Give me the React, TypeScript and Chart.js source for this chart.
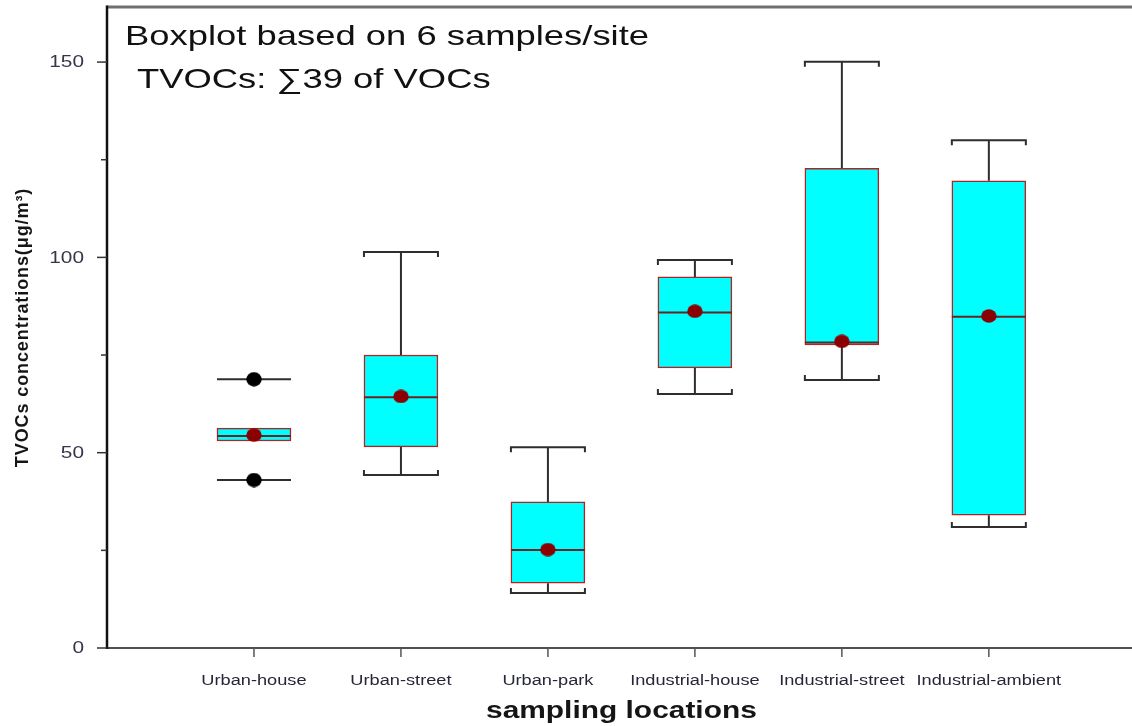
import React, { useEffect, useRef } from 'react';
import { Chart, registerables } from 'chart.js';

Chart.register(...registerables);

// ---------- data ----------
const categories = ['Urban-house', 'Urban-street', 'Urban-park', 'Industrial-house', 'Industrial-street', 'Industrial-ambient'];
const positions = [1, 2, 3, 4, 5, 6];
const whiskerLow = [43.0, 44.3, 14.1, 65.0, 68.6, 31.0];
const q1 = [53.0, 51.5, 16.6, 71.7, 77.6, 34.0];
const median = [54.3, 64.2, 25.1, 85.9, 78.2, 84.8];
const q3 = [56.3, 75.0, 37.4, 95.0, 122.8, 119.6];
const whiskerHigh = [68.8, 101.4, 51.4, 99.3, 150.1, 130.0];
const means = [54.5, 64.4, 25.2, 86.2, 78.5, 85.0];
const hasStem = [false, true, true, true, true, true];
const extremeCategory = [1, 1];
const extremeValues = [68.8, 43.0];
const yMajorTicks = [0, 50, 100, 150];
const yMinorTicks = [25, 75, 125];
const titleLines = ['Boxplot based on 6 samples/site', 'TVOCs: \u221139 of VOCs'];
const xTitle = 'sampling locations';
const yTitle = 'TVOCs concentrations(\u03bcg/m\u00b3)';

// ---------- style ----------
const SX = 1.3;
const BOX_W = 74;
const FONT = '"Liberation Sans", Arial, sans-serif';

function ellipseStyle(color: string, w: number, h: number) {
  const c = document.createElement('canvas');
  c.width = w;
  c.height = h;
  const g = c.getContext('2d')!;
  g.fillStyle = color;
  g.beginPath();
  g.ellipse(w / 2, h / 2, w / 2 - 0.3, h / 2 - 0.3, 0, 0, Math.PI * 2);
  g.fill();
  return c;
}

function drawText(ctx: CanvasRenderingContext2D, text: string, x: number, y: number, font: string, align: CanvasTextAlign, color: string, sx = SX, baseline: CanvasTextBaseline = 'alphabetic') {
  ctx.save();
  ctx.translate(x, y);
  ctx.scale(sx, 1);
  ctx.font = font;
  ctx.fillStyle = color;
  ctx.textAlign = align;
  ctx.textBaseline = baseline;
  ctx.fillText(text, 0, 0);
  ctx.restore();
}

const boxPlugin = {
  id: 'boxDecor',
  beforeDatasetsDraw(chart: any) {
    const { ctx, scales } = chart;
    const x = scales.x;
    const y = scales.y;
    const h = BOX_W / 2;
    ctx.save();
    ctx.strokeStyle = '#2e2e2e';
    ctx.lineWidth = 2;
    ctx.lineCap = 'butt';
    positions.forEach((p, i) => {
      const cx = x.getPixelForValue(p);
      const yLo = y.getPixelForValue(whiskerLow[i]);
      const yHi = y.getPixelForValue(whiskerHigh[i]);
      const yQ1 = y.getPixelForValue(q1[i]);
      const yQ3 = y.getPixelForValue(q3[i]);
      ctx.beginPath();
      if (hasStem[i]) {
        ctx.moveTo(cx, yHi);
        ctx.lineTo(cx, yQ3);
        ctx.moveTo(cx, yQ1);
        ctx.lineTo(cx, yLo);
        ctx.moveTo(cx - h, yHi + 5);
        ctx.lineTo(cx - h, yHi);
        ctx.lineTo(cx + h, yHi);
        ctx.lineTo(cx + h, yHi + 5);
        ctx.moveTo(cx - h, yLo - 5);
        ctx.lineTo(cx - h, yLo);
        ctx.lineTo(cx + h, yLo);
        ctx.lineTo(cx + h, yLo - 5);
      } else {
        ctx.moveTo(cx - h, yHi);
        ctx.lineTo(cx + h, yHi);
        ctx.moveTo(cx - h, yLo);
        ctx.lineTo(cx + h, yLo);
      }
      ctx.stroke();
    });
    ctx.restore();
  },
  afterDatasetDraw(chart: any, args: any) {
    if (args.index !== 0) return;
    const { ctx, scales } = chart;
    const x = scales.x;
    const y = scales.y;
    const h = BOX_W / 2;
    ctx.save();
    ctx.strokeStyle = '#6a2323';
    ctx.lineWidth = 2;
    positions.forEach((p, i) => {
      const cx = x.getPixelForValue(p);
      const ym = y.getPixelForValue(median[i]);
      ctx.beginPath();
      ctx.moveTo(cx - h, ym);
      ctx.lineTo(cx + h, ym);
      ctx.stroke();
    });
    ctx.restore();
  },
  afterDraw(chart: any) {
    const { ctx, scales, chartArea } = chart;
    const x = scales.x;
    const y = scales.y;
    const { left, right, top, bottom } = chartArea;
    const fullRight = chart.width;
    ctx.save();
    // frame
    ctx.strokeStyle = '#707070';
    ctx.lineWidth = 3;
    ctx.beginPath();
    ctx.moveTo(left, top);
    ctx.lineTo(fullRight, top);
    ctx.stroke();
    ctx.strokeStyle = '#505050';
    ctx.lineWidth = 2;
    ctx.beginPath();
    ctx.moveTo(left, bottom);
    ctx.lineTo(fullRight, bottom);
    ctx.stroke();
    ctx.strokeStyle = '#111111';
    ctx.lineWidth = 2.5;
    ctx.beginPath();
    ctx.moveTo(left, top - 1.5);
    ctx.lineTo(left, bottom + 1);
    ctx.stroke();

    // y ticks
    ctx.strokeStyle = '#333333';
    ctx.lineWidth = 1.5;
    yMajorTicks.forEach((v) => {
      const py = y.getPixelForValue(v);
      ctx.beginPath();
      ctx.moveTo(left - 10, py);
      ctx.lineTo(left, py);
      ctx.stroke();
      drawText(ctx, String(v), left - 23, py + 1, `16px ${FONT}`, 'right', '#36364a', SX, 'middle');
    });
    yMinorTicks.forEach((v) => {
      const py = y.getPixelForValue(v);
      ctx.beginPath();
      ctx.moveTo(left - 6, py);
      ctx.lineTo(left, py);
      ctx.stroke();
    });

    // x ticks and labels
    ctx.strokeStyle = '#555555';
    ctx.lineWidth = 1.5;
    positions.forEach((p, i) => {
      const px = x.getPixelForValue(p);
      ctx.beginPath();
      ctx.moveTo(px, bottom);
      ctx.lineTo(px, bottom + 9);
      ctx.stroke();
      drawText(ctx, categories[i], px, bottom + 37, `14px ${FONT}`, 'center', '#26263a');
    });

    // axis titles
    const midX = x.getPixelForValue((positions[0] + positions[positions.length - 1]) / 2);
    drawText(ctx, xTitle, midX, bottom + 70, `bold 23px ${FONT}`, 'center', '#151515');

    ctx.save();
    ctx.translate(28, (top + bottom) / 2);
    ctx.rotate(-Math.PI / 2);
    ctx.font = `bold 18px ${FONT}`;
    (ctx as any).letterSpacing = '0.9px';
    ctx.fillStyle = '#151515';
    ctx.textAlign = 'center';
    ctx.textBaseline = 'alphabetic';
    ctx.fillText(yTitle, 0, 0);
    ctx.restore();

    // annotation text
    drawText(ctx, titleLines[0], left + 18, top + 38, `28px ${FONT}`, 'left', '#111111');
    drawText(ctx, titleLines[1], left + 30, top + 81, `28px ${FONT}`, 'left', '#111111');
    ctx.restore();
  },
};

export default function App() {
  const ref = useRef<HTMLCanvasElement | null>(null);

  useEffect(() => {
    if (!ref.current) return;
    const meanDot = ellipseStyle('#8b0000', 16, 14);
    const blackDot = ellipseStyle('#000000', 16, 15);
    const chart = new Chart(ref.current, {
      type: 'bar',
      data: {
        datasets: [
          {
            type: 'bar',
            label: 'box',
            data: positions.map((p, i) => ({ x: p, y: [q1[i], q3[i]] })) as any,
            backgroundColor: '#00ffff',
            borderColor: '#b52020',
            borderWidth: 1.5,
            borderSkipped: false,
            barThickness: BOX_W,
            order: 3,
          } as any,
          {
            type: 'scatter',
            label: 'extremes',
            data: extremeCategory.map((c, i) => ({ x: c, y: extremeValues[i] })),
            pointStyle: blackDot as any,
            order: 2,
          } as any,
          {
            type: 'scatter',
            label: 'mean',
            data: positions.map((p, i) => ({ x: p, y: means[i] })),
            pointStyle: meanDot as any,
            order: 1,
          } as any,
        ],
      },
      options: {
        responsive: false,
        animation: false,
        devicePixelRatio: 1,
        events: [],
        layout: { padding: { top: 7, left: 0, right: 0, bottom: 0 } },
        plugins: { legend: { display: false }, tooltip: { enabled: false } },
        scales: {
          x: {
            type: 'linear',
            min: 0,
            max: 6.94,
            offset: false,
            grid: { display: false },
            border: { display: false },
            ticks: { display: false },
            afterFit: (s: any) => { s.height = 78; },
          },
          y: {
            type: 'linear',
            min: 0,
            max: 164.1,
            grid: { display: false },
            border: { display: false },
            ticks: { display: false },
            afterFit: (s: any) => { s.width = 107; },
          },
        },
      } as any,
      plugins: [boxPlugin],
    });
    return () => chart.destroy();
  }, []);

  return (
    <div style={{ position: 'absolute', left: 0, top: 0, width: 1132, height: 726, background: '#ffffff' }}>
      <canvas ref={ref} width={1132} height={726} />
    </div>
  );
}
